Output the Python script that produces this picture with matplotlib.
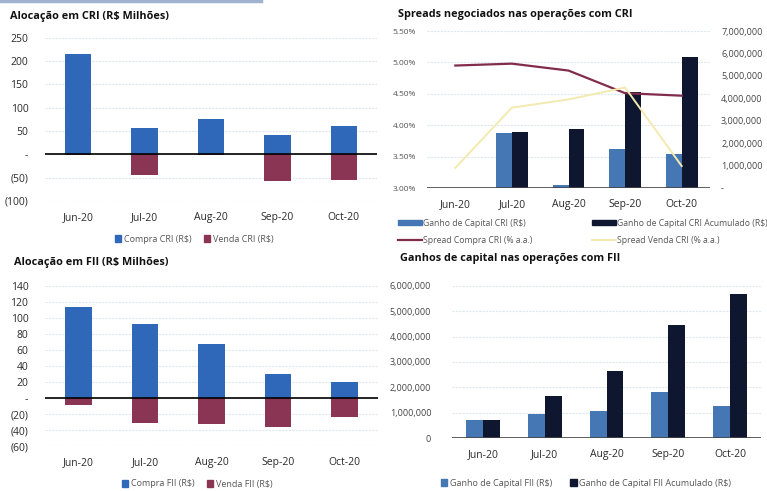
import matplotlib.pyplot as plt
from matplotlib.patches import Patch
from matplotlib.lines import Line2D
from matplotlib.ticker import FuncFormatter
import numpy as np

plt.rcParams['font.family'] = ['Open Sans', 'DejaVu Sans']

# Data
months = ['Jun-20', 'Jul-20', 'Aug-20', 'Sep-20', 'Oct-20']

cri_compra = [214, 56, 75, 41, 60]
cri_venda = [-2, -44, -2, -57, -55]

fii_compra = [114, 93, 68, 30, 20]
fii_venda = [-9, -31, -32, -36, -24]

cri_ganho = [0, 2430000, 130000, 1740000, 1500000]
cri_ganho_acum = [0, 2500000, 2640000, 4300000, 5840000]
spread_compra = [4.95, 4.98, 4.87, 4.51, 4.47]
spread_venda = [3.32, 4.28, 4.41, 4.60, 3.35]

fii_ganho = [700000, 930000, 1050000, 1800000, 1260000]
fii_ganho_acum = [700000, 1640000, 2650000, 4460000, 5680000]

# Colours
BLUE = '#2f68b8'
MAROON = '#8a3553'
LIGHT_BLUE = '#4677b5'
NAVY = '#0f1630'
RED_LINE = '#822c4c'
YELLOW_LINE = '#f3eab0'
GRID = '#dfe8ef'
TXT = '#2a2a2a'

W, H = 767, 491


def rect(x0, y0, x1, y1):
    return [x0 / W, 1 - y1 / H, (x1 - x0) / W, (y1 - y0) / H]


def acct(v, pos=None):
    if abs(v) < 1e-9:
        return '-'
    if v < 0:
        return '({:,.0f})'.format(-v)
    return '{:,.0f}'.format(v)


def dash_zero(v, pos=None):
    if abs(v) < 1e-9:
        return '-'
    return '{:,.0f}'.format(v)


def style(ax):
    for s in ax.spines.values():
        s.set_visible(False)
    ax.tick_params(length=0, labelsize=7.5, colors=TXT)
    ax.set_axisbelow(True)
    ax.yaxis.grid(True, color=GRID, lw=0.8, ls=(0, (2, 1)))
    ax.set_xlim(-0.5, 4.5)


def title(x, y, s):
    fig.text(x / W, 1 - y / H, s, fontsize=7.8, fontweight='bold',
             va='center', color='#111111')


fig = plt.figure(figsize=(W / 100, H / 100), dpi=100)
x = np.arange(len(months))

# thin rule across the top
fig.add_artist(Line2D([0, 0.34], [0.998, 0.998], color='#9fb2cf', lw=2.5,
                      transform=fig.transFigure))

# --- Alocação em CRI ---
ax1 = fig.add_axes(rect(45, 37.7, 377, 201))
style(ax1)
ax1.bar(x, cri_compra, 0.4, color=BLUE)
ax1.bar(x, cri_venda, 0.4, color=MAROON)
ax1.axhline(0, color='black', lw=1.2)
ax1.set_ylim(-100, 250)
ax1.set_yticks(range(-100, 251, 50))
ax1.yaxis.set_major_formatter(FuncFormatter(acct))
ax1.set_xticks(x, months)
ax1.tick_params(axis='x', pad=8)
ax1.tick_params(axis='y', pad=12)
title(10, 16, 'Alocação em CRI (R$ Milhões)')
fig.legend([Patch(color=BLUE), Patch(color=MAROON)],
           ['Compra CRI (R$)', 'Venda CRI (R$)'], ncol=2, frameon=False,
           loc='center', bbox_to_anchor=(194 / W, 1 - 239 / H), fontsize=6.5,
           handlelength=0.7, handleheight=0.7, handletextpad=0.3,
           columnspacing=1.4, labelcolor='#555555')

# --- Alocação em FII ---
ax2 = fig.add_axes(rect(45, 286, 378, 446))
style(ax2)
ax2.bar(x, fii_compra, 0.4, color=BLUE)
ax2.bar(x, fii_venda, 0.4, color=MAROON)
ax2.axhline(0, color='black', lw=1.2)
ax2.set_ylim(-60, 140)
ax2.set_yticks(range(-60, 141, 20))
ax2.yaxis.set_major_formatter(FuncFormatter(acct))
ax2.set_xticks(x, months)
ax2.tick_params(axis='x', pad=8)
ax2.tick_params(axis='y', pad=12)
title(14, 262, 'Alocação em FII (R$ Milhões)')
fig.legend([Patch(color=BLUE), Patch(color=MAROON)],
           ['Compra FII (R$)', 'Venda FII (R$)'], ncol=2, frameon=False,
           loc='center', bbox_to_anchor=(197 / W, 1 - 484 / H), fontsize=6.5,
           handlelength=0.7, handleheight=0.7, handletextpad=0.3,
           columnspacing=1.4, labelcolor='#555555')

# --- Spreads CRI: bars on the right-hand scale, spreads on the left ---
ax3 = fig.add_axes(rect(427, 31, 710, 188))
style(ax3)
ax3.yaxis.grid(False)
ax3b = ax3.twinx()
for s in ax3b.spines.values():
    s.set_visible(False)

# percent gridlines sit behind the bars
for t in np.arange(3.5, 5.51, 0.5):
    frac = (t - 3.0) / 2.5
    ax3.plot([0, 1], [frac, frac], transform=ax3.transAxes, color=GRID,
             lw=0.8, ls=(0, (2, 1)), zorder=0)

bw = 0.28
ax3.bar(x - bw / 2, cri_ganho, bw, color=LIGHT_BLUE, zorder=2)
ax3.bar(x + bw / 2, cri_ganho_acum, bw, color=NAVY, zorder=2)
ax3.set_ylim(0, 7000000)
ax3.set_yticks(range(0, 7000001, 1000000))
ax3.yaxis.set_major_formatter(FuncFormatter(dash_zero))
ax3.yaxis.tick_right()
ax3.tick_params(axis='y', pad=8, labelsize=6.5, colors='#444444')
ax3.axhline(0, color='#444444', lw=1.2, zorder=3)
ax3.set_xticks(x, months)
ax3.tick_params(axis='x', pad=8)

ax3b.yaxis.tick_left()
ax3b.tick_params(length=0, labelsize=6, colors='#555555', pad=8)
ax3b.set_ylim(3.0, 5.5)
ax3b.set_yticks(np.arange(3.0, 5.51, 0.5))
ax3b.yaxis.set_major_formatter(FuncFormatter(lambda v, p: '{:.2f}%'.format(v)))
ax3b.plot(x, spread_compra, color=RED_LINE, lw=1.6)
ax3b.plot(x, spread_venda, color=YELLOW_LINE, lw=1.4)
title(398, 14, 'Spreads negociados nas operações com CRI')
fig.legend([Patch(color=LIGHT_BLUE), Line2D([], [], color=RED_LINE, lw=1.6),
            Patch(color=NAVY), Line2D([], [], color=YELLOW_LINE, lw=1.4)],
           ['Ganho de Capital CRI (R$)', 'Spread Compra CRI (% a.a.)',
            'Ganho de Capital CRI Acumulado (R$)', 'Spread Venda CRI (% a.a.)'],
           ncol=2, frameon=False, loc='upper left',
           bbox_to_anchor=(390 / W, 1 - 211 / H), fontsize=6.2,
           handlelength=2.8, handleheight=0.6, handletextpad=0.1,
           columnspacing=7.0, labelspacing=1.0, labelcolor='#555555')

# --- Ganhos de capital FII ---
ax4 = fig.add_axes(rect(452, 286, 761, 438))
style(ax4)
ax4.bar(x - 0.1375, fii_ganho, 0.275, color=LIGHT_BLUE)
ax4.bar(x + 0.1375, fii_ganho_acum, 0.275, color=NAVY)
ax4.axhline(0, color='#444444', lw=1.2)
ax4.set_ylim(0, 6000000)
ax4.set_yticks(range(0, 6000001, 1000000))
ax4.yaxis.set_major_formatter(FuncFormatter(lambda v, p: '{:,.0f}'.format(v)))
ax4.tick_params(axis='y', pad=15, labelsize=6.5, colors='#444444')
ax4.set_xticks(x, months)
ax4.tick_params(axis='x', pad=8)
title(400, 258, 'Ganhos de capital nas operações com FII')
fig.legend([Patch(color=LIGHT_BLUE), Patch(color=NAVY)],
           ['Ganho de Capital FII (R$)', 'Ganho de Capital FII Acumulado (R$)'],
           ncol=2, frameon=False, loc='center left',
           bbox_to_anchor=(433 / W, 1 - 483 / H), fontsize=6.5,
           handlelength=0.7, handleheight=0.7, handletextpad=0.3,
           columnspacing=2.0, labelcolor='#555555')

fig.savefig('out.png', dpi=100)
